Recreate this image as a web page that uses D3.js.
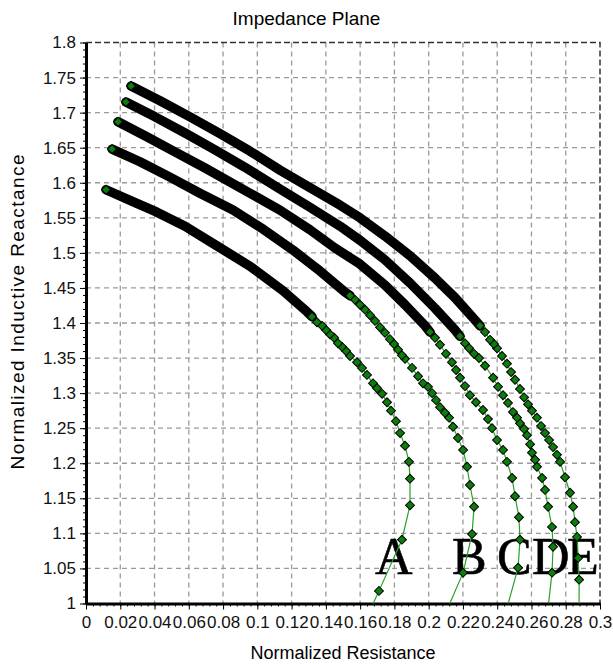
<!DOCTYPE html>
<html>
<head>
<meta charset="utf-8">
<script src="https://cdn.jsdelivr.net/npm/d3@7"></script>
<style>
    body { margin: 0; background: #fff; }
</style>
</head>
<body>
<div id="chart"></div>
<script>
// [normalized resistance, normalized reactance].
// trail = the dense run of markers (shows as a solid band), points = the markers below it
var trailA = [[0.0117,1.590],[0.0257,1.575],[0.0414,1.558],[0.0578,1.538],[0.0724,1.516],[0.0957,1.481],[0.1150,1.446],[0.1290,1.416]];
var pointsA = [[0.1319,1.409],[0.1348,1.401],[0.1378,1.396],[0.1401,1.390],[0.1424,1.384],[0.1448,1.379],[0.1471,1.371],[0.1494,1.366],[0.1518,1.360],[0.1541,1.353],[0.1582,1.344],[0.1611,1.336],[0.1640,1.326],[0.1675,1.314],[0.1699,1.307],[0.1728,1.299],[0.1757,1.287],[0.1780,1.275],[0.1809,1.260],[0.1833,1.243],[0.1862,1.225],[0.1885,1.202],[0.1891,1.178],[0.1891,1.140],[0.1844,1.091],[0.1710,1.018],[0.1646,0.984]];

var trailB = [[0.0152,1.648],[0.0315,1.630],[0.0490,1.608],[0.0665,1.585],[0.0858,1.561],[0.1033,1.534],[0.1208,1.504],[0.1366,1.474],[0.1512,1.444]];
var pointsB = [[0.1541,1.439],[0.1570,1.433],[0.1599,1.426],[0.1629,1.419],[0.1658,1.411],[0.1687,1.403],[0.1716,1.394],[0.1745,1.386],[0.1774,1.377],[0.1798,1.370],[0.1821,1.362],[0.1844,1.354],[0.1862,1.349],[0.1903,1.336],[0.1938,1.324],[0.1967,1.314],[0.1996,1.309],[0.2020,1.300],[0.2043,1.290],[0.2066,1.280],[0.2095,1.272],[0.2119,1.265],[0.2142,1.252],[0.2171,1.236],[0.2201,1.219],[0.2224,1.195],[0.2241,1.169],[0.2265,1.138],[0.2253,1.099],[0.2201,1.044],[0.2095,0.984]];

var trailC = [[0.0187,1.687],[0.0344,1.667],[0.0519,1.644],[0.0695,1.621],[0.0870,1.597],[0.1016,1.577],[0.1132,1.561],[0.1307,1.533],[0.1453,1.507],[0.1599,1.484],[0.1745,1.454],[0.1862,1.426],[0.1979,1.396]];
var pointsC = [[0.2008,1.387],[0.2037,1.379],[0.2066,1.369],[0.2101,1.356],[0.2136,1.344],[0.2160,1.333],[0.2183,1.322],[0.2212,1.310],[0.2241,1.297],[0.2276,1.287],[0.2317,1.276],[0.2346,1.263],[0.2370,1.250],[0.2399,1.233],[0.2434,1.219],[0.2457,1.202],[0.2487,1.179],[0.2504,1.153],[0.2527,1.123],[0.2533,1.091],[0.2522,1.051],[0.2446,0.984]];

var trailD = [[0.0233,1.715],[0.0403,1.694],[0.0578,1.671],[0.0753,1.647],[0.0928,1.622],[0.1132,1.591],[0.1307,1.565],[0.1483,1.538],[0.1599,1.518],[0.1745,1.490],[0.1891,1.457],[0.2037,1.421],[0.2154,1.390]];
var pointsD = [[0.2183,1.381],[0.2212,1.371],[0.2236,1.364],[0.2265,1.356],[0.2294,1.350],[0.2329,1.339],[0.2376,1.322],[0.2405,1.309],[0.2434,1.297],[0.2463,1.286],[0.2492,1.273],[0.2516,1.265],[0.2533,1.257],[0.2557,1.249],[0.2574,1.240],[0.2592,1.227],[0.2603,1.215],[0.2621,1.205],[0.2632,1.195],[0.2662,1.179],[0.2679,1.162],[0.2697,1.138],[0.2720,1.109],[0.2726,1.081],[0.2720,1.044],[0.2697,0.994]];

var trailE = [[0.0263,1.738],[0.0432,1.717],[0.0607,1.694],[0.0782,1.670],[0.0957,1.645],[0.1132,1.618],[0.1307,1.593],[0.1483,1.568],[0.1599,1.550],[0.1745,1.524],[0.1891,1.496],[0.2037,1.464],[0.2154,1.436],[0.2271,1.404]];
var pointsE = [[0.2300,1.396],[0.2329,1.387],[0.2358,1.376],[0.2381,1.370],[0.2399,1.364],[0.2428,1.353],[0.2457,1.342],[0.2481,1.330],[0.2504,1.319],[0.2533,1.306],[0.2557,1.294],[0.2580,1.284],[0.2603,1.275],[0.2632,1.265],[0.2656,1.253],[0.2679,1.243],[0.2703,1.233],[0.2726,1.223],[0.2749,1.212],[0.2767,1.202],[0.2796,1.180],[0.2825,1.158],[0.2843,1.138],[0.2854,1.116],[0.2866,1.095],[0.2872,1.065],[0.2878,1.034],[0.2878,0.984]];

var curveNames = ["A", "B", "C", "D", "E"];
var labelX = [0.1687, 0.2136, 0.2399, 0.2603, 0.2808];
var labelY = 1.042;

var xTicks = [0, 0.02, 0.04, 0.06, 0.08, 0.1, 0.12, 0.14, 0.16, 0.18, 0.2, 0.22, 0.24, 0.26, 0.28, 0.3];
var yTicks = [1, 1.05, 1.1, 1.15, 1.2, 1.25, 1.3, 1.35, 1.4, 1.45, 1.5, 1.55, 1.6, 1.65, 1.7, 1.75, 1.8];

var curves = [
    {trail: trailA, points: pointsA},
    {trail: trailB, points: pointsB},
    {trail: trailC, points: pointsC},
    {trail: trailD, points: pointsD},
    {trail: trailE, points: pointsE}
];

var sans = "'Liberation Sans', Arial, sans-serif";

var margin = {top: 42.5, right: 13, bottom: 61.5, left: 86},
    width = 613 - margin.left - margin.right,
    height = 665 - margin.top - margin.bottom;

var svg = d3.select("#chart")
    .append("svg")
    .attr("width", 613)
    .attr("height", 665)
    .append("g")
    .attr("transform", "translate(" + margin.left + "," + margin.top + ")");

var x = d3.scaleLinear().domain([0, 0.3]).range([0, width]);
var y = d3.scaleLinear().domain([1, 1.8]).range([height, 0]);

// grid
svg.append("g")
    .selectAll("line")
    .data(xTicks.slice(1, -1))
    .enter().append("line")
    .attr("x1", d => x(d)).attr("x2", d => x(d))
    .attr("y1", 0).attr("y2", height)
    .attr("stroke", "#9a9a9a")
    .attr("stroke-width", 1.3)
    .attr("stroke-dasharray", "5,4");
svg.append("g")
    .selectAll("line")
    .data(yTicks.slice(1, -1))
    .enter().append("line")
    .attr("x1", 0).attr("x2", width)
    .attr("y1", d => y(d)).attr("y2", d => y(d))
    .attr("stroke", "#9a9a9a")
    .attr("stroke-width", 1.3)
    .attr("stroke-dasharray", "5,4");

// dashed top and right frame
svg.append("path")
    .attr("d", "M0,0H" + width + "V" + height)
    .attr("fill", "none")
    .attr("stroke", "#333")
    .attr("stroke-width", 1.5)
    .attr("stroke-dasharray", "6,3");

// minor ticks
svg.append("g")
    .attr("transform", "translate(0," + height + ")")
    .call(d3.axisBottom(x).tickValues(d3.range(0, 0.3001, 0.004)).tickSize(3).tickFormat(""))
    .call(g => g.select(".domain").remove());
svg.append("g")
    .call(d3.axisLeft(y).tickValues(d3.range(1, 1.8001, 0.01)).tickSize(3).tickFormat(""))
    .call(g => g.select(".domain").remove());

// axes
svg.append("g")
    .attr("transform", "translate(0," + height + ")")
    .call(d3.axisBottom(x).tickValues(xTicks).tickSize(6).tickSizeOuter(0).tickPadding(6).tickFormat(d3.format("")))
    .call(g => g.select(".domain").attr("stroke-width", 3))
    .selectAll("text")
    .style("font-size", "17px")
    .style("font-family", sans)
    .attr("fill", "#111");

svg.append("g")
    .call(d3.axisLeft(y).tickValues(yTicks).tickSize(6).tickSizeOuter(0).tickPadding(4).tickFormat(d3.format("")))
    .call(g => g.select(".domain").attr("stroke-width", 3))
    .selectAll("text")
    .style("font-size", "17px")
    .style("font-family", sans)
    .attr("fill", "#111");

// titles
svg.append("text")
    .attr("x", 306.5 - margin.left)
    .attr("y", 25 - margin.top)
    .attr("text-anchor", "middle")
    .style("font-family", sans)
    .style("font-size", "19px")
    .text("Impedance Plane");

svg.append("text")
    .attr("x", width / 2)
    .attr("y", 659 - margin.top)
    .attr("text-anchor", "middle")
    .style("font-family", sans)
    .style("font-size", "18px")
    .text("Normalized Resistance");

svg.append("text")
    .attr("transform", "translate(" + (24 - margin.left) + "," + (312 - margin.top) + ") rotate(-90)")
    .attr("text-anchor", "middle")
    .attr("textLength", 315)
    .attr("lengthAdjust", "spacing")
    .style("font-family", sans)
    .style("font-size", "19px")
    .text("Normalized Inductive Reactance");

svg.append("clipPath")
    .attr("id", "clip")
    .append("rect")
    .attr("width", width)
    .attr("height", height);

var plot = svg.append("g").attr("clip-path", "url(#clip)");

// curve letters
plot.selectAll(".lbl")
    .data(curveNames)
    .enter().append("text")
    .attr("class", "lbl")
    .attr("x", (d, i) => x(labelX[i]))
    .attr("y", y(labelY))
    .style("font-family", "'Liberation Serif', 'Times New Roman', serif")
    .style("font-size", "52px")
    .attr("fill", "#000")
    .attr("stroke", "#000")
    .attr("stroke-width", 0.6)
    .text(d => d);

var line = d3.line()
    .x(d => x(d[0]))
    .y(d => y(d[1]));

var diamond = d3.symbol().type(d3.symbolSquare).size(40);

curves.forEach(function (c) {
    var all = c.trail.concat(c.points);

    // thin connecting line
    plot.append("path")
        .datum(all)
        .attr("d", line)
        .attr("fill", "none")
        .attr("stroke", "#2aa02a")
        .attr("stroke-width", 1.2);

    // dense run of markers -> black band
    plot.append("path")
        .datum(c.trail.concat(c.points.slice(0, 1)))
        .attr("d", line)
        .attr("fill", "none")
        .attr("stroke", "#000")
        .attr("stroke-width", 9.5)
        .attr("stroke-linecap", "round")
        .attr("stroke-linejoin", "round");

    // markers, bottom first so the upper ones sit on top
    plot.selectAll(null)
        .data(c.points.slice().reverse().concat([c.trail[0]]))
        .enter().append("path")
        .attr("d", diamond)
        .attr("transform", d => "translate(" + x(d[0]) + "," + y(d[1]) + ") rotate(45)")
        .attr("fill", "#0b7d0b")
        .attr("stroke", "#000")
        .attr("stroke-width", 1);
});
</script>
</body>
</html>
